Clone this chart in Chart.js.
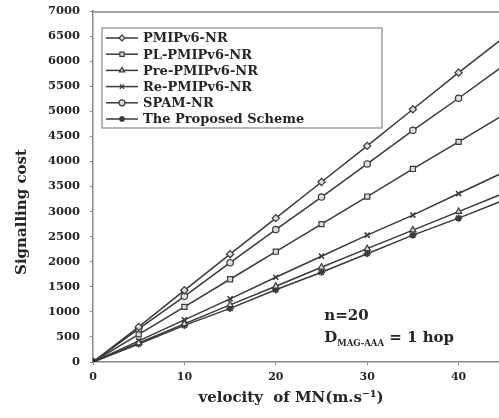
<!DOCTYPE html>
<html>
<head>
<meta charset="utf-8">
<script src="https://cdn.jsdelivr.net/npm/chart.js@4"></script>
<style>
  html, body { margin: 0; padding: 0; background: #fff; overflow: hidden; }
  #wrap { width: 499px; height: 418px; overflow: hidden; position: relative; }
  #box { width: 566px; height: 418px; position: absolute; left: 0; top: 0; }
</style>
</head>
<body>
<div id="wrap"><div id="box"><canvas id="chart"></canvas></div></div>
<script>
// --- data ---
const velocity = [0, 5, 10, 15, 20, 25, 30, 35, 40, 45];
const pmipNR     = [0, 700, 1430, 2150, 2870, 3590, 4310, 5040, 5770, 6480];
const plPmipNR   = [0, 550, 1100, 1650, 2200, 2750, 3300, 3850, 4390, 4940];
const prePmipNR  = [0, 380, 760, 1140, 1510, 1890, 2260, 2630, 3000, 3370];
const rePmipNR   = [0, 420, 840, 1260, 1690, 2110, 2530, 2930, 3360, 3790];
const spamNR     = [0, 660, 1310, 1980, 2640, 3290, 3950, 4620, 5260, 5920];
const proposed   = [0, 360, 730, 1070, 1440, 1790, 2160, 2530, 2870, 3230];

const seriesNames = ['PMIPv6-NR', 'PL-PMIPv6-NR', 'Pre-PMIPv6-NR', 'Re-PMIPv6-NR', 'SPAM-NR', 'The Proposed Scheme'];
const seriesValues = [pmipNR, plPmipNR, prePmipNR, rePmipNR, spamNR, proposed];
const markers = ['rectRot', 'rect', 'triangle', 'crossRot', 'circle', 'star'];

const yTicks = [0, 500, 1000, 1500, 2000, 2500, 3000, 3500, 4000, 4500, 5000, 5500, 6000, 6500, 7000];
const xTicks = [0, 10, 20, 30, 40];

const serif = '"DejaVu Serif", "Liberation Serif", serif';
const ink = '#262626';
const lineColor = '#3a3a3a';

const datasets = seriesNames.map((name, i) => ({
    label: name,
    data: velocity.map((v, j) => ({ x: v, y: seriesValues[i][j] })),
    borderColor: lineColor,
    borderWidth: 1.5,
    pointStyle: markers[i],
    pointRadius: markers[i] === 'circle' ? 3.2 : 3.6,
    pointBorderWidth: markers[i] === 'star' || markers[i] === 'crossRot' ? 1.6 : 1.2,
    pointBorderColor: lineColor,
    pointBackgroundColor: velocity.map(v => v === 0 ? '#111' : '#ddd'),
    fill: false,
    tension: 0
}));

// legend inside the plot, axis titles and the two notes
const insideText = {
    id: 'insideText',
    afterDraw(chart) {
        const ctx = chart.ctx;
        const area = chart.chartArea;
        ctx.save();

        // top frame line
        ctx.strokeStyle = '#888';
        ctx.lineWidth = 1.5;
        ctx.beginPath();
        ctx.moveTo(area.left, area.top + 1);
        ctx.lineTo(area.right, area.top + 1);
        ctx.stroke();

        // legend box
        const lx = area.left + 9, ly = area.top + 17, lw = 280, lh = 100, row = 16.2;
        ctx.fillStyle = '#fff';
        ctx.fillRect(lx, ly, lw, lh);
        ctx.strokeStyle = '#888';
        ctx.lineWidth = 1.2;
        ctx.strokeRect(lx, ly, lw, lh);

        ctx.font = 'bold 13px ' + serif;
        ctx.textBaseline = 'middle';
        seriesNames.forEach((name, i) => {
            const y = ly + 10 + i * row;
            ctx.strokeStyle = lineColor;
            ctx.lineWidth = 1.5;
            ctx.beginPath();
            ctx.moveTo(lx + 4, y);
            ctx.lineTo(lx + 36, y);
            ctx.stroke();
            ctx.fillStyle = '#ddd';
            ctx.lineWidth = markers[i] === 'star' ? 1.6 : 1.2;
            Chart.helpers.drawPoint(ctx, { pointStyle: markers[i], radius: 3, rotation: 0, borderWidth: ctx.lineWidth }, lx + 20, y);
            ctx.fillStyle = ink;
            ctx.textAlign = 'left';
            ctx.fillText(name, lx + 41, y + 1);
        });

        // axis titles
        ctx.fillStyle = ink;
        ctx.textAlign = 'center';
        ctx.textBaseline = 'middle';
        ctx.font = 'bold 15px ' + serif;
        ctx.fillText('velocity  of MN(m.s\u207B\u00B9)', 291, 398);
        ctx.save();
        ctx.translate(22, 212);
        ctx.rotate(-Math.PI / 2);
        ctx.fillText('Signalling cost', 0, 0);
        ctx.restore();

        // notes
        const xs = chart.scales.x, ys = chart.scales.y;
        const nx = xs.getPixelForValue(25.3);
        ctx.textAlign = 'left';
        ctx.textBaseline = 'alphabetic';
        ctx.font = 'bold 15px ' + serif;
        ctx.fillText('n=20', nx, ys.getPixelForValue(840));
        const dy = ys.getPixelForValue(390);
        ctx.fillText('D', nx, dy);
        let w = ctx.measureText('D').width;
        ctx.font = 'bold 8.5px ' + serif;
        ctx.fillText('MAG-AAA', nx + w, dy + 4);
        w += ctx.measureText('MAG-AAA').width;
        ctx.font = 'bold 15px ' + serif;
        ctx.fillText(' = 1 hop', nx + w, dy);

        ctx.restore();
    }
};

new Chart(document.getElementById('chart'), {
    type: 'line',
    data: { datasets },
    plugins: [insideText],
    options: {
        responsive: true,
        maintainAspectRatio: false,
        animation: false,
        layout: { padding: { top: 11, right: 16, left: 0, bottom: 0 } },
        plugins: { legend: { display: false }, tooltip: { enabled: false } },
        scales: {
            x: {
                type: 'linear',
                min: 0,
                max: 50,
                afterBuildTicks: s => { s.ticks = xTicks.map(v => ({ value: v })); },
                afterFit: s => { s.height = 56; },
                ticks: { color: ink, font: { family: serif, size: 11, weight: 'bold' }, padding: 6 },
                grid: { drawOnChartArea: false, color: '#888', tickLength: 3 },
                border: { color: '#888', width: 1.5 }
            },
            y: {
                min: 0,
                max: 7000,
                afterBuildTicks: s => { s.ticks = yTicks.map(v => ({ value: v })); },
                afterFit: s => { s.width = 93; s.paddingTop = 0; s.paddingBottom = 0; },
                ticks: {
                    color: ink,
                    font: { family: serif, size: 11.5, weight: 'bold' },
                    padding: 10,
                    callback: v => String(v)
                },
                grid: { drawOnChartArea: false, color: '#888', tickLength: 3 },
                border: { color: '#888', width: 1.5 }
            }
        }
    }
});
</script>
</body>
</html>
